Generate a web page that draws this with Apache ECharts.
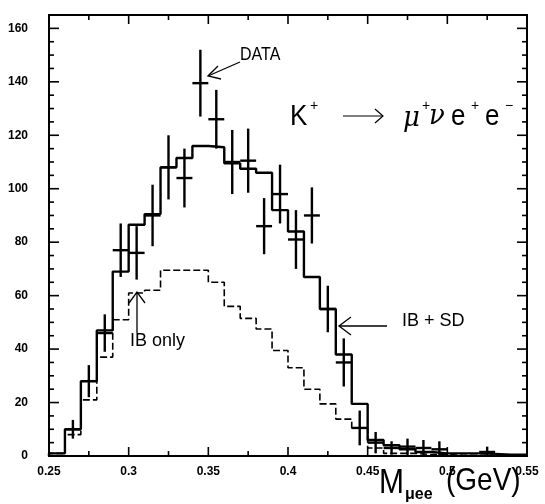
<!DOCTYPE html>
<html>
<head>
<meta charset="utf-8">
<script src="https://cdn.jsdelivr.net/npm/echarts@6/dist/echarts.min.js"></script>
<style>
  html, body { margin: 0; padding: 0; background: #fff; }
  #chart { width: 545px; height: 504px; }
</style>
</head>
<body>
<div id="chart"></div>
<script>
// bins of M_uee (GeV), low edges
var binLow = [0.25, 0.26, 0.27, 0.28, 0.29, 0.30, 0.31, 0.32, 0.33, 0.34,
              0.35, 0.36, 0.37, 0.38, 0.39, 0.40, 0.41, 0.42, 0.43, 0.44,
              0.45, 0.46, 0.47, 0.48, 0.49, 0.50, 0.51, 0.52, 0.53, 0.54];
var lastEdge = 0.55;

// IB + SD (solid histogram)
var ibsd = [1, 10, 28, 47, 69, 86.5, 90.5, 108, 111.5, 116,
            115.5, 109.5, 107.5, 106, 92, 84, 67, 55, 38, 19.5,
            6, 4, 2.5, 1.5, 1, 1, 1, 0.8, 0.5, 0.5];

// IB only (dashed histogram)
var ibOnly = [1, 8, 21, 37, 51, 61, 62, 69.5, 69.5, 69.5,
              65, 56, 51.5, 47.5, 39.5, 33, 25, 19.5, 13.8, 10.5,
              3, 1, 1, 0.5, 0.5, 0.3, 0.3, 0.3, 0.2, 0.2];

// DATA points: bin centre, counts, error
var dataX = [0.265, 0.275, 0.285, 0.295, 0.305, 0.315, 0.325, 0.335, 0.345, 0.355,
             0.365, 0.375, 0.385, 0.395, 0.405, 0.415, 0.425, 0.435, 0.445, 0.455,
             0.465, 0.475, 0.485, 0.495, 0.525];
var dataY = [10, 28, 46, 77, 76, 90, 108, 104, 139.5, 126,
             110, 110.5, 86, 98, 81, 90, 55, 35, 10.5, 5,
             3, 3.5, 3, 2.5, 1.5];
var dataErr = [3.5, 6, 7, 10, 10, 11.5, 12, 11, 12.5, 11,
               12, 12, 10.5, 11, 11, 10.5, 8.7, 9, 6.5, 4,
               2.5, 3, 3, 3, 2];
var halfBin = 0.005;

// tick positions (frame ticks on all four sides)
var xMajor = [0.25, 0.3, 0.35, 0.4, 0.45, 0.5, 0.55];
var xMinor = [0.275, 0.325, 0.375, 0.425, 0.475, 0.525];
var yMajor = [0, 20, 40, 60, 80, 100, 120, 140, 160];
var yMinor = [5, 10, 15, 25, 30, 35, 45, 50, 55, 65, 70, 75, 85, 90, 95,
              105, 110, 115, 125, 130, 135, 145, 150, 155];
var xMin = 0.25, xMax = 0.55, yMin = 0, yMax = 165;

function stepData(vals) {
    var out = [[binLow[0], 0]];
    for (var i = 0; i < vals.length; i++) out.push([binLow[i], vals[i]]);
    out.push([lastEdge, vals[vals.length - 1]]);
    return out;
}

// frame items: [kind, value]  kind 0 = x major, 1 = x minor, 2 = y major, 3 = y minor, 4 = box
var frameItems = [[4, 0]];
xMajor.forEach(function (v) { frameItems.push([0, v]); });
xMinor.forEach(function (v) { frameItems.push([1, v]); });
yMajor.forEach(function (v) { frameItems.push([2, v]); });
yMinor.forEach(function (v) { frameItems.push([3, v]); });

var myChart = echarts.init(document.getElementById('chart'));

var tickFont = { fontFamily: 'Liberation Sans', fontWeight: 'bold', fontSize: 12, color: '#000' };

var txt = function (x, y, s, size, extra) {
    var st = { text: s, fontSize: size, fontFamily: 'Liberation Sans', fill: '#000', verticalAlign: 'middle', align: 'left' };
    if (extra && extra.style) {
        for (var k in extra.style) st[k] = extra.style[k];
    }
    var el = { type: 'text', x: x, y: y, style: st, z: 100 };
    if (extra && extra.scaleY) el.scaleY = extra.scaleY;
    return el;
};
var seg = function (pts, w) {
    return { type: 'polyline', shape: { points: pts }, style: { stroke: '#000', lineWidth: w || 1.3, fill: null }, z: 100 };
};
var ln = function (a, b, w) {
    return { type: 'line', shape: { x1: a[0], y1: a[1], x2: b[0], y2: b[1] }, style: { stroke: '#000', lineWidth: w } };
};

var option = {
    animation: false,
    backgroundColor: '#fff',
    grid: { left: 49, right: 18, top: 15, bottom: 48 },
    xAxis: {
        type: 'value', min: xMin, max: xMax, interval: 0.05,
        axisLine: { show: true, lineStyle: { color: '#000', width: 2 } },
        axisTick: { show: false },
        axisLabel: { show: true, margin: 10, fontFamily: tickFont.fontFamily, fontWeight: 'bold', fontSize: 12, color: '#000' },
        splitLine: { show: false }
    },
    yAxis: {
        type: 'value', min: yMin, max: yMax, interval: 20,
        axisLine: { show: true, lineStyle: { color: '#000', width: 2 } },
        axisTick: { show: false },
        axisLabel: {
            show: true, margin: 21, showMaxLabel: false,
            fontFamily: tickFont.fontFamily, fontWeight: 'bold', fontSize: 12, color: '#000',
            formatter: function (v) { return yMajor.indexOf(v) >= 0 ? String(v) : ''; }
        },
        splitLine: { show: false }
    },
    series: [
        {
            name: 'IB only', type: 'line', step: 'end', showSymbol: false,
            data: stepData(ibOnly),
            lineStyle: { color: '#000', width: 1.6, type: [7, 3] }
        },
        {
            name: 'IB + SD', type: 'line', step: 'end', showSymbol: false,
            data: stepData(ibsd),
            lineStyle: { color: '#000', width: 2.4 }
        },
        {
            name: 'DATA', type: 'custom', clip: true,
            data: dataX.map(function (x, i) { return [x, dataY[i], dataErr[i]]; }),
            renderItem: function (params, api) {
                var x = api.value(0), y = api.value(1), e = api.value(2);
                var l = api.coord([x - halfBin, y]);
                var r = api.coord([x + halfBin, y]);
                var t = api.coord([x, y + e]);
                var b = api.coord([x, Math.max(0, y - e)]);
                return { type: 'group', children: [ln(l, r, 2.4), ln(t, b, 2.4)] };
            }
        },
        {
            // frame box and inward ticks on all four sides
            name: 'frame', type: 'custom', clip: false, silent: true, z: 5,
            data: frameItems,
            renderItem: function (params, api) {
                var kind = api.value(0), v = api.value(1);
                if (kind === 4) {
                    var tl = api.coord([xMin, yMax]), br = api.coord([xMax, yMin]);
                    return { type: 'rect', shape: { x: tl[0], y: tl[1], width: br[0] - tl[0], height: br[1] - tl[1] },
                             style: { stroke: '#000', lineWidth: 2, fill: null } };
                }
                if (kind === 0 || kind === 1) {
                    var len = kind === 0 ? 9 : 5;
                    var b = api.coord([v, yMin]), t = api.coord([v, yMax]);
                    return { type: 'group', children: [
                        ln(b, [b[0], b[1] - len], 1.6), ln(t, [t[0], t[1] + len], 1.6)] };
                }
                var len2 = kind === 2 ? 10 : 5;
                var l = api.coord([xMin, v]), r = api.coord([xMax, v]);
                return { type: 'group', children: [
                    ln(l, [l[0] + len2, l[1]], 1.6), ln(r, [r[0] - len2, r[1]], 1.6)] };
            }
        }
    ],
    graphic: [
        // DATA label + arrow
        txt(240, 55, 'DATA', 16, { scaleY: 1.1 }),
        seg([[240, 62], [208, 76]]),
        seg([[218, 66], [208, 76], [221, 79]]),
        // K+ -> mu+ nu e+ e-
        txt(290, 117, 'K', 26, { scaleY: 1.15 }),
        txt(310, 106, '+', 14),
        seg([[343, 116], [383, 116]], 1.2),
        seg([[375, 109], [383, 116], [375, 123]], 1.2),
        txt(403, 119, 'μ', 26, { scaleY: 1.1, style: { fontStyle: 'italic', fontFamily: 'DejaVu Serif' } }),
        txt(422, 106, '+', 14),
        txt(429, 117, 'ν', 26, { scaleY: 1.1, style: { fontStyle: 'italic', fontFamily: 'DejaVu Serif' } }),
        txt(451, 117, 'e', 26, { scaleY: 1.15 }),
        txt(471, 106, '+', 14),
        txt(485, 117, 'e', 26, { scaleY: 1.15 }),
        txt(505, 106, '−', 14),
        // IB only
        txt(130, 341, 'IB only', 18),
        seg([[137, 333], [137, 292]]),
        seg([[129, 303], [137, 292], [145, 303]]),
        // IB + SD
        txt(402, 321, 'IB + SD', 18),
        seg([[387, 326], [339, 326]]),
        seg([[351, 317], [339, 326], [351, 335]]),
        // axis title
        txt(379, 483, 'M', 30, { scaleY: 1.15 }),
        txt(405, 495, 'μee', 16, { style: { fontWeight: 'bold' } }),
        txt(446, 482, '(GeV)', 28, { scaleY: 1.1 })
    ]
};

myChart.setOption(option);
</script>
</body>
</html>
